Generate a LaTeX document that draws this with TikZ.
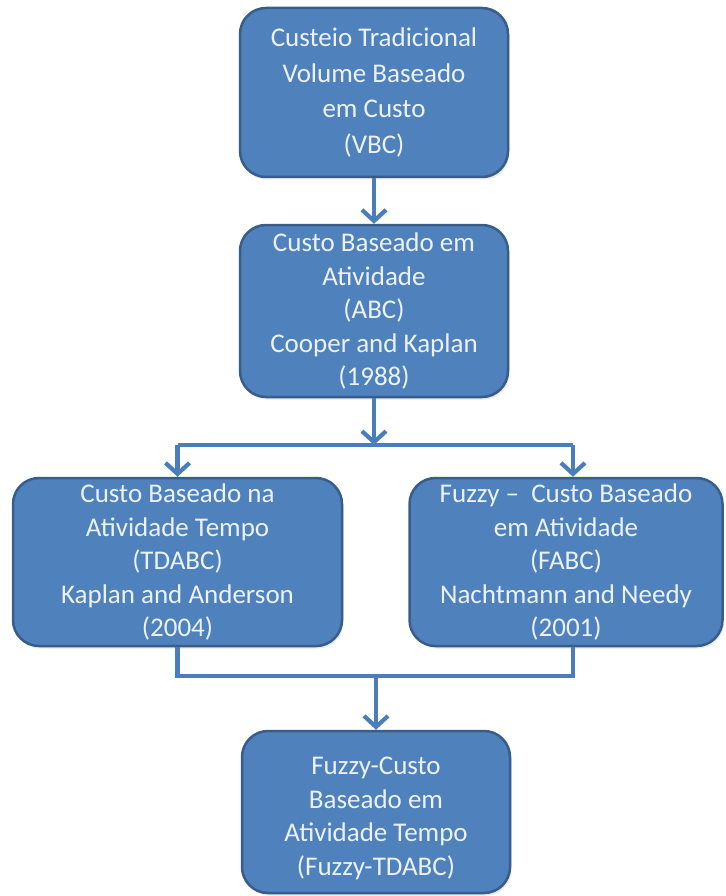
\documentclass[tikz,border=0pt]{standalone}
\usepackage{fontspec}
\setmainfont{Carlito}
\usetikzlibrary{arrows.meta,shadows}

\definecolor{boxfill}{RGB}{79,129,189}
\definecolor{boxline}{RGB}{56,93,138}
\definecolor{boxtext}{RGB}{236,242,250}
\definecolor{linkblue}{RGB}{74,126,187}

\tikzset{
  stagebox/.style={
    draw=boxline, line width=2.5pt, fill=boxfill,
    rounded corners=26pt, text=boxtext, align=center,
    font=\fontsize{27}{33.5}\selectfont, inner sep=0pt,
    drop shadow={shadow xshift=1.5pt, shadow yshift=-2.5pt, opacity=0.18}
  },
  link/.style={draw=linkblue, line width=4.2pt},
  linkarrow/.style={link, -{Straight Barb[length=11pt,width=24pt]}}
}

\begin{document}
\begin{tikzpicture}[x=1pt, y=-1pt]
  \useasboundingbox (0,0) rectangle (725,896);

  % stages of the costing methods
  \node[stagebox, font=\fontsize{27}{35.5}\selectfont,
        minimum width=268pt, minimum height=169pt] (vbc) at (374,92.5)
    {Custeio Tradicional\\Volume Baseado\\em Custo\\(VBC)};
  \node[stagebox, minimum width=268pt, minimum height=172pt] (abc) at (374,311)
    {Custo Baseado em\\Atividade\\(ABC)\\Cooper and Kaplan\\(1988)};
  \node[stagebox, minimum width=329pt, minimum height=168pt] (tdabc) at (177.5,562)
    {Custo Baseado na\\Atividade Tempo\\(TDABC)\\Kaplan and Anderson\\(2004)};
  \node[stagebox, minimum width=313pt, minimum height=168pt] (fabc) at (566,562)
    {Fuzzy –~ Custo Baseado\\em Atividade\\(FABC)\\Nachtmann and Needy\\(2001)};
  \node[stagebox, minimum width=268pt, minimum height=162pt] (ftdabc) at (376,812)
    {\rule{0pt}{30pt}Fuzzy-Custo\\Baseado em\\Atividade Tempo\\(Fuzzy-TDABC)};

  % branch and join points
  \coordinate (split) at (374,445);
  \coordinate (join) at (ftdabc.north |- 0,676);

  % connectors
  \draw[linkarrow] (vbc.south) -- (abc.north);
  \draw[linkarrow] (abc.south) -- (split);
  \draw[link] (tdabc.north |- split) -- ([xshift=7pt]fabc.north |- split);
  \draw[linkarrow] (tdabc.north |- split) -- (tdabc.north);
  \draw[linkarrow] ([xshift=7pt]fabc.north |- split) -- ([xshift=7pt]fabc.north);
  \draw[link] (tdabc.south) |- (join);
  \draw[link] ([xshift=7pt]fabc.south) |- (join);
  \draw[linkarrow] (join) -- (ftdabc.north);
\end{tikzpicture}
\end{document}
